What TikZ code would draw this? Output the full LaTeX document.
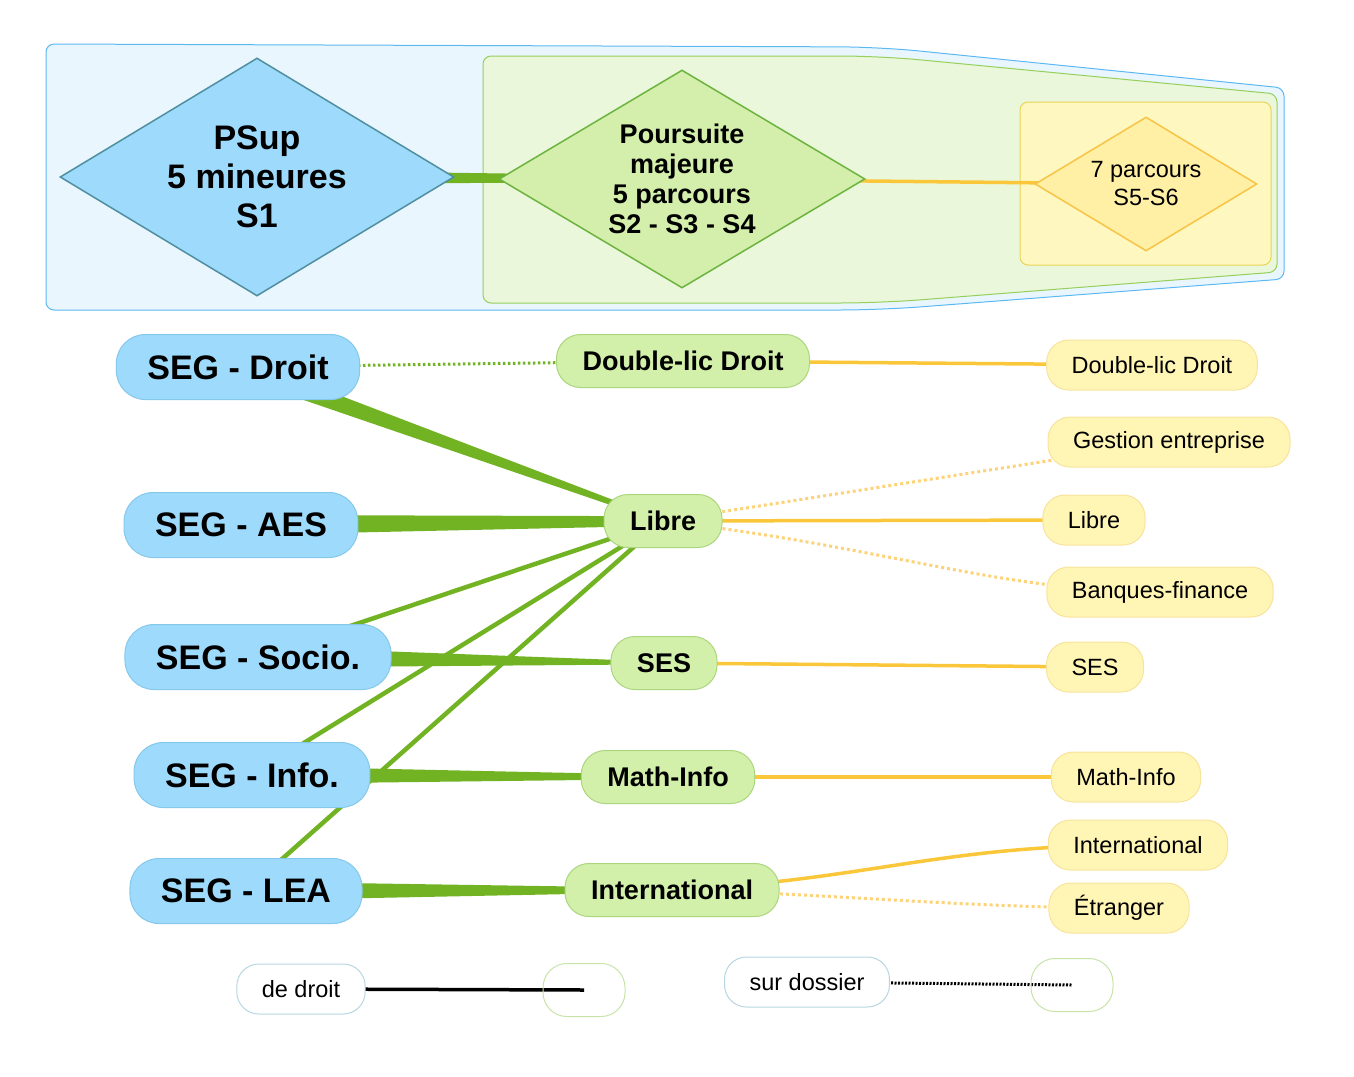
\documentclass[tikz,border=0pt]{standalone}
\usepackage{fontspec}
\setmainfont{Liberation Sans}
\usepackage{tikz}
\usetikzlibrary{calc}
\usetikzlibrary{shapes.geometric}

\definecolor{segfill}{HTML}{9DDAFC}
\definecolor{segline}{HTML}{86C8EA}
\definecolor{majfill}{HTML}{D3F0AA}
\definecolor{majline}{HTML}{ABD67E}
\definecolor{parfill}{HTML}{FFF5B5}
\definecolor{parline}{HTML}{F8E39C}
\definecolor{lkgreen}{HTML}{72B324}
\definecolor{lkyellow}{HTML}{FAC73A}
\definecolor{lkyellowlight}{HTML}{FDD37A}
\definecolor{psupline}{HTML}{4F8FA0}
\definecolor{majdline}{HTML}{6DB33F}
\definecolor{majdfill}{HTML}{D3EFAB}
\definecolor{pardline}{HTML}{F7C445}
\definecolor{pardfill}{HTML}{FFF0A5}
\definecolor{outline}{HTML}{5CB8F2}
\definecolor{outfill}{HTML}{E9F6FE}
\definecolor{inline}{HTML}{96CF5A}
\definecolor{infill}{HTML}{EAF7DA}
\definecolor{boxline}{HTML}{EBD357}
\definecolor{boxfill}{HTML}{FFF7C0}
\definecolor{legline}{HTML}{B8D6E2}
\definecolor{legempty}{HTML}{C7E3A8}

\pgfdeclarelayer{back}
\pgfdeclarelayer{links}
\pgfsetlayers{back,links,main}

\newcommand{\band}[4]{\fill[lkgreen] ($(#1)+(0,#3)$) -- ($(#2)+(0,#4)$) -- ($(#2)+(0,-#4)$) -- ($(#1)+(0,-#3)$) -- cycle;}

\begin{document}
\begin{tikzpicture}[x=1pt, y=-1pt]
	\tikzstyle{seg}=[draw=segline, fill=segfill, line width=1pt, rounded corners=29pt, minimum height=65pt, inner xsep=31pt, font=\fontsize{34}{40}\selectfont\bfseries]
	\tikzstyle{maj}=[draw=majline, fill=majfill, line width=1pt, rounded corners=24pt, minimum height=53pt, inner xsep=26pt, font=\fontsize{27}{32}\selectfont\bfseries]
	\tikzstyle{par}=[draw=parline, fill=parfill, line width=1pt, rounded corners=22pt, minimum height=50pt, inner xsep=25pt, font=\fontsize{23.5}{28}\selectfont]
	\tikzstyle{leg}=[draw=legline, fill=white, line width=1pt, rounded corners=22pt, minimum height=50pt, inner xsep=25pt, font=\fontsize{23.5}{28}\selectfont]
	\tikzstyle{legvoid}=[draw=legempty, line width=1pt, rounded corners=24pt, minimum height=53pt, minimum width=82pt]
	\tikzstyle{glink}=[lkgreen, line width=4.5pt]
	\tikzstyle{gdot}=[lkgreen, line width=3pt, dash pattern=on 2.5pt off 2.5pt]
	\tikzstyle{ylink}=[lkyellow, line width=3.5pt]
	\tikzstyle{ydot}=[lkyellowlight, line width=3pt, dash pattern=on 3pt off 3pt]

	\useasboundingbox (0,0) rectangle (1354,1076);

	\node[diamond, aspect=1.66, minimum width=394pt, minimum height=238pt, inner sep=0pt, draw=psupline, fill=segfill, line width=1.5pt, align=center, font=\fontsize{34}{39}\selectfont\bfseries] (psup) at (257,177) {PSup\\5 mineures\\S1};
	\node[diamond, aspect=1.68, minimum width=366pt, minimum height=218pt, inner sep=0pt, draw=majdline, fill=majdfill, line width=1.5pt, align=center, font=\fontsize{27}{30}\selectfont\bfseries] (poursuite) at (682,179) {Poursuite\\majeure\\5 parcours\\S2 - S3 - S4};
	\node[diamond, aspect=1.66, minimum width=222pt, minimum height=134pt, inner sep=0pt, draw=pardline, fill=pardfill, line width=1.5pt, align=center, font=\fontsize{23.5}{28}\selectfont] (sept) at (1146,184) {7 parcours\\S5-S6};

	\node[seg] (droit) at (238,367) {SEG - Droit};
	\node[seg] (aes) at (241,525) {SEG - AES};
	\node[seg] (socio) at (258,657) {SEG - Socio.};
	\node[seg] (info) at (252,775) {SEG - Info.};
	\node[seg] (lea) at (246,891) {SEG - LEA};

	\node[maj] (dbl) at (683,361) {Double-lic Droit};
	\node[maj] (libre) at (663,521) {Libre};
	\node[maj] (ses) at (664,663) {SES};
	\node[maj] (mathinfo) at (668,777) {Math-Info};
	\node[maj] (intl) at (672,890) {International};

	\node[par] (pdbl) at (1152,365) {Double-lic Droit};
	\node[par] (pgest) at (1169,442) {Gestion entreprise};
	\node[par] (plibre) at (1094,520) {Libre};
	\node[par] (pbanq) at (1160,592) {Banques-finance};
	\node[par] (pses) at (1095,667) {SES};
	\node[par] (pmath) at (1126,777) {Math-Info};
	\node[par] (pintl) at (1138,845) {International};
	\node[par] (petr) at (1119,908) {Étranger};

	\node[leg] (droitleg) at (301,989) {de droit};
	\node[legvoid] (voida) at (584,990) {};
	\node[leg] (dossier) at (807,982) {sur dossier};
	\node[legvoid] (voidb) at (1072,985) {};

	\begin{pgfonlayer}{back}
		\draw[outline, fill=outfill, line width=1pt, rounded corners=8pt] (46,44) [rounded corners=40pt] -- (880,47) [rounded corners=8pt] -- (1284,88) -- (1284,279) [rounded corners=40pt] -- (880,310) [rounded corners=8pt] -- (46,310) -- cycle;
		\draw[inline, fill=infill, line width=1pt, rounded corners=8pt] (483,56) [rounded corners=40pt] -- (880,56) [rounded corners=8pt] -- (1277,94) -- (1277,272) [rounded corners=40pt] -- (880,303) [rounded corners=8pt] -- (483,303) -- cycle;
		\draw[boxline, fill=boxfill, line width=1pt, rounded corners=8pt] (1020,102) rectangle (1271,265);
	\end{pgfonlayer}

	\begin{pgfonlayer}{links}
		\band{psup}{poursuite}{7}{3}
		\draw[ylink] (poursuite.center) -- (sept.center);
		\band{droit}{libre}{10.5}{2}
		\band{aes}{libre}{10}{4.8}
		\band{socio}{ses}{10.5}{1.3}
		\band{info}{mathinfo}{9}{2}
		\band{lea}{intl}{9.5}{2}
		\draw[glink] (libre.center) -- (socio.center);
		\draw[glink] (libre.center) -- (info.center);
		\draw[glink] (libre.center) -- (lea.center);
		\draw[gdot] (droit.center) -- (dbl.center);
		\draw[ylink] (dbl.center) -- (pdbl.center);
		\draw[ydot] (libre.center) -- (pgest.center);
		\draw[ylink] (libre.center) -- (plibre.center);
		\draw[ydot] (libre.center) .. controls +(220,25) and +(-160,0) .. (pbanq.center);
		\draw[ylink] (ses.center) -- (pses.center);
		\draw[ylink] (mathinfo.center) -- (pmath.center);
		\draw[ylink] (intl.center) .. controls +(200,-10) and +(-200,0) .. (pintl.center);
		\draw[ydot] (intl.center) .. controls +(150,3) and +(-150,0) .. (petr.center);
		\draw[black, line width=3.5pt] (droitleg.center) -- (voida.center);
		\draw[black, line width=3pt, dash pattern=on 2pt off 1.5pt] (dossier.center) -- (voidb.center);
	\end{pgfonlayer}
\end{tikzpicture}
\end{document}
